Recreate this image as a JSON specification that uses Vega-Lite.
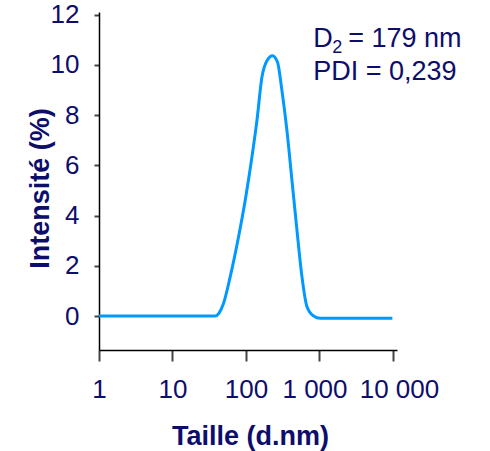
{
  "$schema": "https://vega.github.io/schema/vega-lite/v6.json",
  "width": 298,
  "height": 338,
  "padding": {"left": 99, "top": 12, "right": 93, "bottom": 101},
  "autosize": {"type": "none"},
  "background": "white",
  "config": {
    "view": {"stroke": null},
    "font": "Liberation Sans"
  },
  "datasets": {
    "curve": [
      {"size": 1, "intensity": 0},
      {"size": 10, "intensity": 0},
      {"size": 38, "intensity": 0},
      {"size": 43, "intensity": 0.12},
      {"size": 49.4, "intensity": 0.5},
      {"size": 60.9, "intensity": 1.56},
      {"size": 79.1, "intensity": 3.15},
      {"size": 97.5, "intensity": 4.6},
      {"size": 120.3, "intensity": 6.32},
      {"size": 140.8, "intensity": 7.78},
      {"size": 164.7, "intensity": 9.5},
      {"size": 192.6, "intensity": 10.16},
      {"size": 229.7, "intensity": 10.36},
      {"size": 268.7, "intensity": 10.1},
      {"size": 308.4, "intensity": 8.97},
      {"size": 360.8, "intensity": 7.38},
      {"size": 421.9, "intensity": 5.4},
      {"size": 493.8, "intensity": 3.41},
      {"size": 577.6, "intensity": 1.56},
      {"size": 675.6, "intensity": 0.37},
      {"size": 831, "intensity": 0},
      {"size": 1025, "intensity": -0.09},
      {"size": 9800, "intensity": -0.09}
    ],
    "d2": [
      {"size": 823, "intensity": 10.7, "symbol": "D", "sub": "2", "rest": "= 179 nm"}
    ],
    "pdi": [
      {"size": 823, "intensity": 9.38, "label": "PDI = 0,239"}
    ]
  },
  "layer": [
    {
      "data": {"name": "curve"},
      "mark": {"type": "line", "color": "#0099FF", "strokeWidth": 3, "interpolate": "monotone", "clip": false},
      "encoding": {
        "x": {
          "field": "size", "type": "quantitative",
          "scale": {"type": "log", "domain": [1, 11338], "nice": false},
          "axis": {
            "title": "Taille (d.nm)",
            "values": [1, 10, 100, 1000, 10000],
            "labelExpr": "datum.value == 1000 ? '1 000' : datum.value == 10000 ? '10 000' : datum.label",
            "labelOverlap": false,
            "labelFlush": false,
            "labelFontSize": 26,
            "labelColor": "#0D0D6B",
            "labelPadding": 15,
            "labelOffset": {"condition": [{"test": "datum.value == 1000", "value": -5}, {"test": "datum.value == 10000", "value": 6}], "value": 0},
            "tickSize": 11,
            "tickColor": "#444444",
            "tickWidth": 2,
            "domainColor": "#000000",
            "domainWidth": 1.5,
            "grid": false,
            "titleFontSize": 27,
            "titleFontWeight": "bold",
            "titleColor": "#0D0D6B",
            "titleY": 73,
            "titleX": 151
          }
        },
        "y": {
          "field": "intensity", "type": "quantitative",
          "scale": {"domain": [-1.35, 12.1], "nice": false, "zero": false},
          "axis": {
            "title": "Intensité (%)",
            "values": [0, 2, 4, 6, 8, 10, 12],
            "labelFontSize": 26,
            "labelColor": "#0D0D6B",
            "labelPadding": 15,
            "tickSize": 5,
            "tickColor": "#444444",
            "tickWidth": 2,
            "domainColor": "#000000",
            "domainWidth": 1.5,
            "grid": false,
            "titleFontSize": 27,
            "titleFontWeight": "bold",
            "titleColor": "#0D0D6B",
            "titleX": -45,
            "titleY": 176
          }
        }
      }
    },
    {
      "data": {"name": "d2"},
      "mark": {"type": "text", "align": "left", "baseline": "alphabetic", "fontSize": 27, "color": "#0D0D6B"},
      "encoding": {
        "x": {"field": "size", "type": "quantitative"},
        "y": {"field": "intensity", "type": "quantitative"},
        "text": {"field": "symbol"}
      }
    },
    {
      "data": {"name": "d2"},
      "mark": {"type": "text", "align": "left", "baseline": "alphabetic", "fontSize": 18, "dx": 19, "dy": 6, "color": "#0D0D6B"},
      "encoding": {
        "x": {"field": "size", "type": "quantitative"},
        "y": {"field": "intensity", "type": "quantitative"},
        "text": {"field": "sub"}
      }
    },
    {
      "data": {"name": "d2"},
      "mark": {"type": "text", "align": "left", "baseline": "alphabetic", "fontSize": 27, "dx": 35, "color": "#0D0D6B"},
      "encoding": {
        "x": {"field": "size", "type": "quantitative"},
        "y": {"field": "intensity", "type": "quantitative"},
        "text": {"field": "rest"}
      }
    },
    {
      "data": {"name": "pdi"},
      "mark": {"type": "text", "align": "left", "baseline": "alphabetic", "fontSize": 27, "color": "#0D0D6B"},
      "encoding": {
        "x": {"field": "size", "type": "quantitative"},
        "y": {"field": "intensity", "type": "quantitative"},
        "text": {"field": "label"}
      }
    }
  ]
}
